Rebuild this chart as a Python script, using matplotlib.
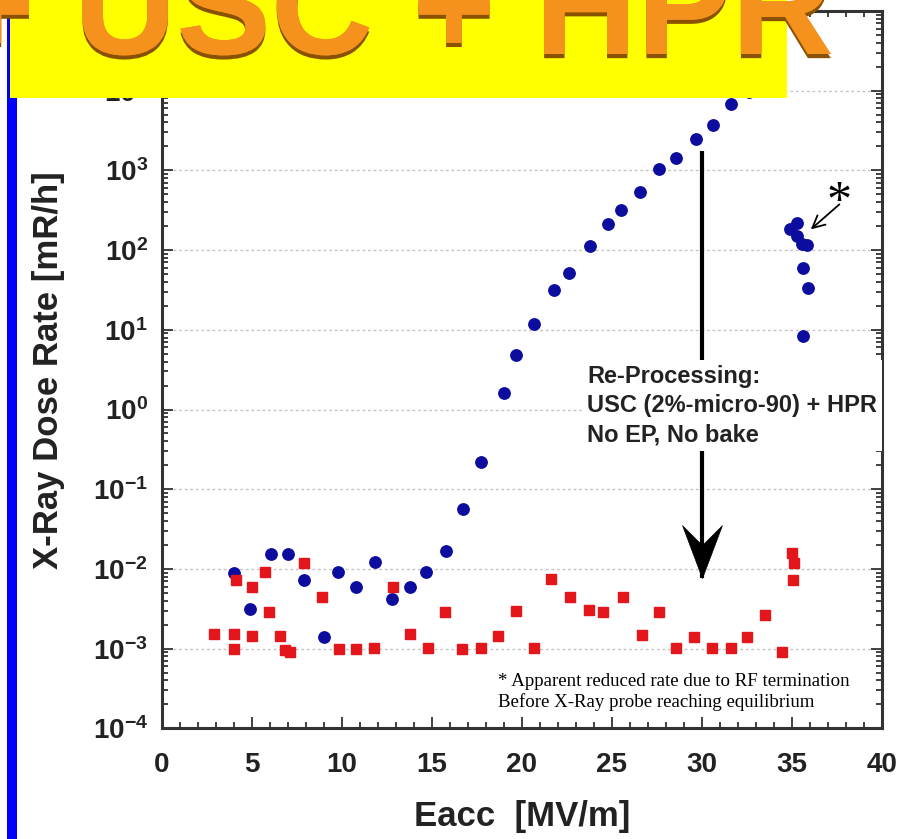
import numpy as np
import matplotlib
matplotlib.use("Agg")
import matplotlib.pyplot as plt
from matplotlib.patches import Rectangle
from matplotlib.path import Path
from matplotlib.ticker import LogLocator, MultipleLocator, FuncFormatter, NullFormatter
import matplotlib.patheffects as pe

plt.rcParams['font.family'] = ['Liberation Sans', 'DejaVu Sans']
plt.rcParams['mathtext.fontset'] = 'custom'
plt.rcParams['mathtext.rm'] = 'Liberation Sans'
plt.rcParams['mathtext.bf'] = 'Liberation Sans:bold'
plt.rcParams['mathtext.it'] = 'Liberation Sans:italic'

# X-ray dose rate vs accelerating gradient  [Eacc in MV/m, dose in mR/h]
eacc_blue = [4.0, 4.9, 6.05, 7.0, 7.9, 9.0, 9.8, 10.8, 11.85, 12.8,
             13.8, 14.7, 15.8, 16.75, 17.75, 19.0, 19.7, 20.7, 21.8, 22.6,
             23.8, 24.8, 25.5, 26.55, 27.6, 28.55, 29.7, 30.6, 31.6, 32.6,
             34.9, 35.3, 35.3, 35.55, 35.85, 35.65, 35.9, 35.65]
dose_blue = [8.9e-3, 3.1e-3, 1.53e-2, 1.53e-2, 7.3e-3, 1.39e-3, 9.1e-3, 5.9e-3, 1.22e-2, 4.2e-3,
             6.0e-3, 9.1e-3, 1.7e-2, 0.057, 0.22, 1.6, 4.8, 11.8, 32, 51,
             111, 210, 316, 533, 1030, 1430, 2470, 3680, 6900, 9.5e3,
             182, 216, 150, 118, 115, 60, 33, 8.3]

eacc_red = [2.9, 4.0, 4.0, 4.1, 5.0, 5.0, 5.75, 5.95, 6.55, 6.85,
            7.1, 7.9, 8.9, 9.85, 10.8, 11.8, 12.85, 13.8, 14.8, 15.75,
            16.7, 17.75, 18.7, 19.7, 20.7, 21.65, 22.7, 23.75, 24.5, 25.6,
            26.7, 27.65, 28.55, 29.55, 30.55, 31.6, 32.5, 33.5, 34.45, 35.0,
            35.1, 35.05]
dose_red = [1.53e-3, 1.53e-3, 9.8e-4, 7.3e-3, 6.0e-3, 1.42e-3, 9.1e-3, 2.86e-3, 1.46e-3, 9.6e-4,
            9.0e-4, 1.18e-2, 4.5e-3, 9.8e-4, 9.8e-4, 1.01e-3, 6.0e-3, 1.53e-3, 1.01e-3, 2.86e-3,
            9.8e-4, 1.01e-3, 1.45e-3, 2.98e-3, 1.01e-3, 7.4e-3, 4.5e-3, 3.06e-3, 2.92e-3, 4.4e-3,
            1.49e-3, 2.92e-3, 1.03e-3, 1.39e-3, 1.01e-3, 1.01e-3, 1.39e-3, 2.65e-3, 9.0e-4, 1.6e-2,
            1.18e-2, 7.3e-3]

x_ticks = [0, 5, 10, 15, 20, 25, 30, 35, 40]

# re-processing arrow: gradient, start and end dose
reproc_eacc = 30.0
reproc_from = 1.74e3
reproc_to = 7.7e-3

# arrow pointing at the reduced-rate points
star_tail = (37.65, 375.0)
star_head = (36.06, 182.0)

TXT = '#222222'

fig = plt.figure(figsize=(9.08, 8.39), dpi=100)
W, H = 908.0, 839.0
ax = fig.add_axes([161.7 / W, 1 - 728.3 / H, 720.0 / W, 717.3 / H])

ax.set_yscale('log')
ax.set_xlim(0, 40)
ax.set_ylim(1e-4, 1e5)

ax.yaxis.grid(True, which='major', linestyle=(0, (2, 2)), color='#c4c4c4', lw=1.0)
ax.set_axisbelow(True)

ax.plot(eacc_blue, dose_blue, linestyle='none', marker='o', ms=8.2,
        mfc='#0c0c9e', mec='#0c0c9e', zorder=3)
ax.plot(eacc_red, dose_red, linestyle='none', marker='s', ms=7.8,
        mfc='#e3161c', mec='#e3161c', zorder=4)

# main re-processing arrow (shaft + concave head)
ax.plot([reproc_eacc, reproc_eacc], [reproc_from, reproc_to], color='black', lw=3.0,
        solid_capstyle='butt', zorder=5)
head = Path([(0, 0), (-20, 53), (0, 33), (20, 53), (0, 0)],
            [Path.MOVETO, Path.LINETO, Path.LINETO, Path.LINETO, Path.CLOSEPOLY])
ax.plot([reproc_eacc], [reproc_to], linestyle='none', marker=head, ms=76,
        mfc='black', mec='black', mew=0.5, zorder=6)

ax.text(0.5907, 0.5065, 'Re-Processing:\nUSC (2%-micro-90) + HPR\nNo EP, No bake',
        transform=ax.transAxes, ha='left', va='top', fontsize=17, fontweight='bold',
        color=TXT, linespacing=1.35, zorder=7,
        bbox=dict(boxstyle='square,pad=0.2', fc='white', ec='none'))

ax.annotate('', xy=star_head, xytext=star_tail,
            arrowprops=dict(arrowstyle='->', lw=1.3, color='black',
                            shrinkA=0, shrinkB=0, mutation_scale=22), zorder=6)
ax.text(0.9405, 0.733, '*', transform=ax.transAxes, ha='center', va='center',
        fontsize=36, family='Liberation Serif', color='black', zorder=7)

ax.text(0.467, 0.0765,
        '* Apparent reduced rate due to RF termination\nBefore X-Ray probe reaching equilibrium',
        transform=ax.transAxes, ha='left', va='top', fontsize=13.6,
        family='Liberation Serif', color='black', linespacing=1.2, zorder=7)

# axes styling
for s in ax.spines.values():
    s.set_linewidth(2.2)
    s.set_color('#333333')

ax.set_xticks(x_ticks)
ax.xaxis.set_minor_locator(MultipleLocator(1))
ax.yaxis.set_major_locator(LogLocator(base=10, numticks=20))
ax.yaxis.set_minor_locator(LogLocator(base=10, subs=np.arange(2, 10), numticks=20))
ax.yaxis.set_minor_formatter(NullFormatter())


def decade_label(v, pos):
    e = int(round(np.log10(v)))
    if e > 4:
        return ''
    return r'$\mathbf{10^{%d}}$' % e


ax.yaxis.set_major_formatter(FuncFormatter(decade_label))

ax.tick_params(which='both', direction='in', top=True, right=True,
               color='#333333', width=1.3)
ax.tick_params(which='major', length=8)
ax.tick_params(which='minor', length=4)
ax.tick_params(axis='x', which='major', pad=17, labelsize=20, labelcolor=TXT)
ax.tick_params(axis='y', which='major', pad=10, labelsize=20, labelcolor=TXT)
for lbl in ax.get_xticklabels():
    lbl.set_fontweight('bold')

ax.set_xlabel('Eacc  [MV/m]', fontsize=25, fontweight='bold', color=TXT, labelpad=16)
ax.set_ylabel('X-Ray Dose Rate [mR/h]', fontsize=25, fontweight='bold', color=TXT, labelpad=20)

# slide banner: blue side bar, yellow title box and title text
fig.patches.append(Rectangle((7 / W, 0), 10 / W, 1, transform=fig.transFigure,
                             facecolor='#0000ff', edgecolor='none', zorder=1.5))
fig.patches.append(Rectangle((10 / W, 1 - 98 / H), 777 / W, 98 / H, transform=fig.transFigure,
                             facecolor='#ffff00', edgecolor='none', zorder=2))
fig.text(-48 / W, 1 - 54 / H, '+ USC + HPR', fontsize=102, fontweight='bold',
         color='#f5921e', ha='left', va='baseline', zorder=3,
         path_effects=[pe.withSimplePatchShadow(offset=(0, -3), shadow_rgbFace='#8a5200', alpha=1.0),
                       pe.Normal()])

fig.savefig('out.png', dpi=100)
